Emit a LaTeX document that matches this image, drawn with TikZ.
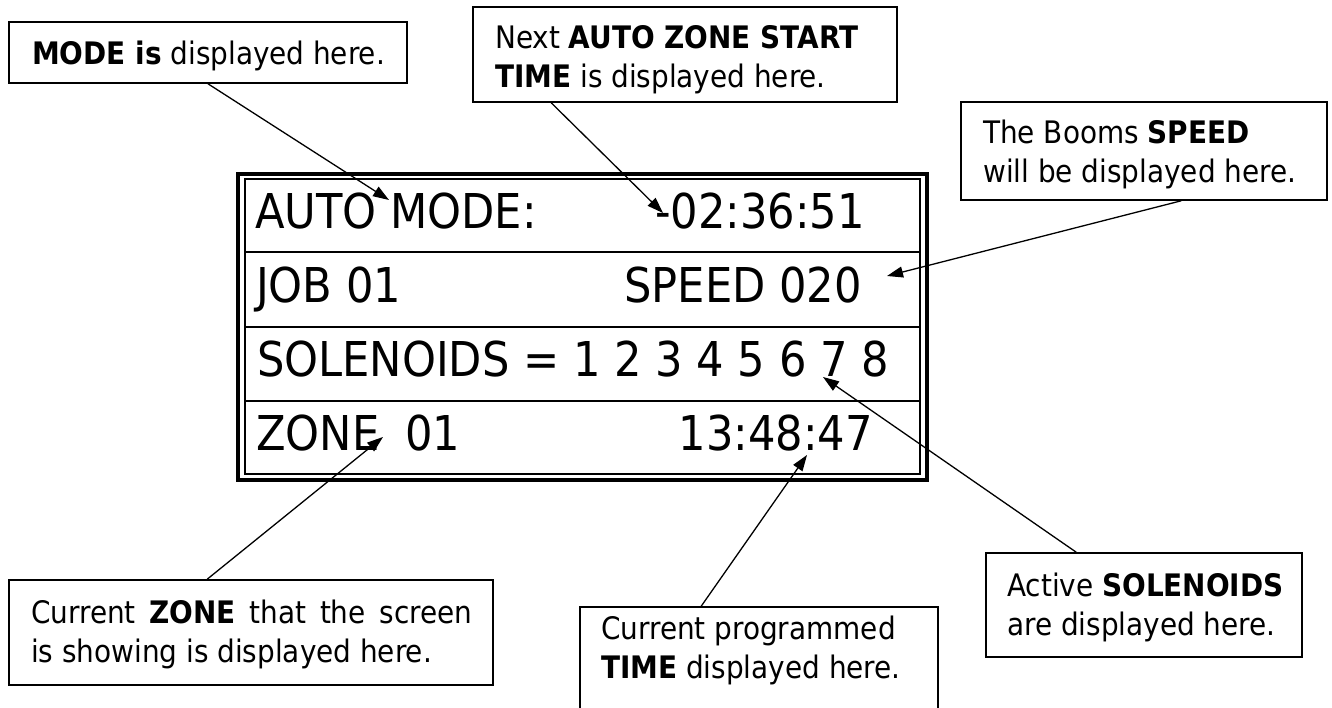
\documentclass[tikz,border=0pt]{standalone}
\usepackage{fontspec}
\setmainfont{DejaVu Sans Condensed}[BoldFont={DejaVu Sans Condensed Bold}]
\usetikzlibrary{arrows.meta,calc}
\begin{document}
\begin{tikzpicture}[x=1pt,y=-1pt,
  lbl/.style={font=\fontsize{31}{39}\selectfont, anchor=base west, inner sep=0pt},
  disp/.style={font=\fontsize{48}{58}\selectfont, inner sep=0pt},
  callout/.style={draw, line width=1.6pt, inner sep=0pt},
  ptr/.style={line width=1.3pt, -{Triangle[length=16pt,width=11pt]}}]
\useasboundingbox (0,0) rectangle (1332,708);
\clip (0,0) rectangle (1332,708);
\fill[white] (0,0) rectangle (1332,708);

% callout boxes
\node[callout, minimum width=398pt, minimum height=61pt] (modebox) at (208,52.5) {};
\node[callout, minimum width=424pt, minimum height=95pt] (autobox) at (685,54.5) {};
\node[callout, minimum width=366pt, minimum height=98pt] (speedbox) at (1144,151) {};
\node[callout, minimum width=484pt, minimum height=105pt] (zonebox) at (251,632.5) {};
\node[callout, minimum width=358pt, minimum height=123pt] (timebox) at (759,668.5) {};
\node[callout, minimum width=316pt, minimum height=104pt] (solbox) at (1144,605) {};

% callout texts
\node[lbl] (modetxt) at (32,65) {\textbf{MODE is} displayed here.};
\node[lbl] (autotxta) at (495,49) {Next \textbf{AUTO ZONE START}};
\node[lbl] (autotxtb) at (495,88) {\textbf{TIME} is displayed here.};
\node[lbl] (speedtxta) at (983,144) {The Booms \textbf{SPEED}};
\node[lbl] (speedtxtb) at (983,183) {will be displayed here.};
\node[lbl] (zonetxta) at (31,623) {\makebox[441pt][s]{Current \textbf{ZONE} that the screen}};
\node[lbl] (zonetxtb) at (31,662) {is showing is displayed here.};
\node[lbl] (timetxta) at (601,639) {Current programmed};
\node[lbl] (timetxtb) at (601,678) {\textbf{TIME} displayed here.};
\node[lbl] (soltxta) at (1007,596) {Active \textbf{SOLENOIDS}};
\node[lbl] (soltxtb) at (1007,635) {are displayed here.};

% display frame
\node[draw, line width=4pt, minimum width=689pt, minimum height=306pt, inner sep=0pt] (outer) at (582.5,327) {};
\node[draw, line width=1.8pt, minimum width=675pt, minimum height=295pt, inner sep=0pt] (inner) at (582.5,326.5) {};
\draw[line width=2pt] (245,252) -- (920,252);
\draw[line width=2pt] (245,327) -- (920,327);
\draw[line width=2pt] (245,401) -- (920,401);

% display texts
\node[disp, anchor=base west] (r1l) at (255,229) {AUTO MODE:};
\node[disp, anchor=base east] (r1r) at (865,229) {-02:36:51};
\node[disp, anchor=base west] (r2l) at (256,302) {JOB 01};
\node[disp, anchor=base east] (r2r) at (862,302) {SPEED 020};
\node[disp, anchor=base west] (r3) at (257,376) {SOLENOIDS = 1 2 3 4 5 6 7 8};
\node[disp, anchor=base west] (r4l) at (256,450) {\makebox[149pt][l]{ZONE}01};
\node[disp, anchor=base east] (r4r) at (873,450) {13:48:47};

% arrow tips
\coordinate (modetip) at (389,200);
\coordinate (autotip) at (663,213);
\coordinate (speedtip) at (887,276);
\coordinate (zonetip) at (383,437);
\coordinate (timetip) at (807,455);
\coordinate (soltip) at (823,377);

% arrows
\draw[ptr] (modebox.south) -- (modetip);
\draw[ptr] ($(autobox.south west)+(79,0)$) -- (autotip);
\draw[ptr] ($(speedbox.south west)+(221,0)$) -- (speedtip);
\draw[ptr] ($(zonebox.north west)+(199,0)$) -- (zonetip);
\draw[ptr] ($(timebox.north west)+(122,0)$) -- (timetip);
\draw[ptr] ($(solbox.north west)+(91,0)$) -- (soltip);
\end{tikzpicture}
\end{document}
